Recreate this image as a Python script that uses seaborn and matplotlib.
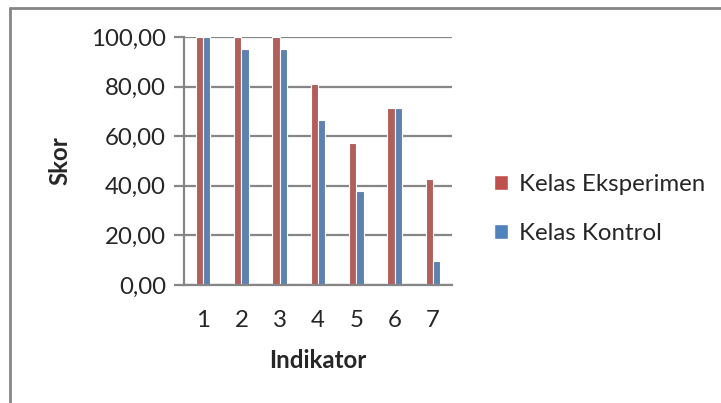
import numpy as np
import pandas as pd
import seaborn as sns
import matplotlib.pyplot as plt
from matplotlib.lines import Line2D
from matplotlib.patches import Patch

indikator = ["1", "2", "3", "4", "5", "6", "7"]
eksperimen = [100.00, 100.00, 100.00, 80.95, 57.14, 71.43, 42.86]
kontrol = [100.00, 95.24, 95.24, 66.67, 38.10, 71.43, 9.52]
kelas = ["Kelas Eksperimen", "Kelas Kontrol"]
warna = ["#C0504D", "#4F81BD"]

df = pd.DataFrame({
    "Indikator": indikator * 2,
    "Skor": eksperimen + kontrol,
    "Kelas": [kelas[0]] * len(indikator) + [kelas[1]] * len(indikator),
})

sns.set_style("white")
plt.rcParams["font.family"] = ["Lato", "DejaVu Sans"]

fig = plt.figure(figsize=(7.21, 4.03), dpi=100)
ax = fig.add_axes([184 / 721, 1 - 285 / 403, 268 / 721, 248 / 403])
ax.set_axisbelow(True)

sns.barplot(data=df, x="Indikator", y="Skor", hue="Kelas", palette=warna,
            width=0.38, edgecolor="white", linewidth=0.8, ax=ax, legend=False)

grid_c = "#868686"
fs = 17.3
ax.set_ylim(0, 100)
ax.set_xlim(-0.5, 6.5)
ax.set_yticks(np.arange(0, 101, 20))
ax.set_yticklabels([f"{v:.2f}".replace(".", ",") for v in np.arange(0, 101, 20)])
ax.yaxis.grid(True, color=grid_c, linewidth=1.6)
for s in ["top", "right"]:
    ax.spines[s].set_visible(False)
for s in ["left", "bottom"]:
    ax.spines[s].set_color(grid_c)
    ax.spines[s].set_linewidth(1.6)
ax.tick_params(axis="y", length=7, width=1.6, color=grid_c, labelsize=fs, pad=6, left=True)
ax.tick_params(axis="x", length=0, labelsize=fs, pad=18)
ax.set_xlabel("Indikator", fontsize=fs, fontweight="bold", labelpad=13)
ax.set_ylabel("Skor", fontsize=fs, fontweight="bold", labelpad=14)

handles = [Patch(facecolor=c, edgecolor="white") for c in warna]
fig.legend(handles, kelas, loc="center left", bbox_to_anchor=(472 / 721, 1 - 209 / 403),
           frameon=False, fontsize=fs, handlelength=0.6, handleheight=0.6,
           handletextpad=0.45, labelspacing=1.15)

# bingkai grafik
fig.add_artist(Line2D([10 / 721, 1], [1 - 8 / 403, 1 - 8 / 403], color=grid_c, lw=2,
                      transform=fig.transFigure))
fig.add_artist(Line2D([10 / 721, 10 / 721], [0, 1 - 8 / 403], color=grid_c, lw=2,
                      transform=fig.transFigure))

fig.savefig("out.png", dpi=100)
